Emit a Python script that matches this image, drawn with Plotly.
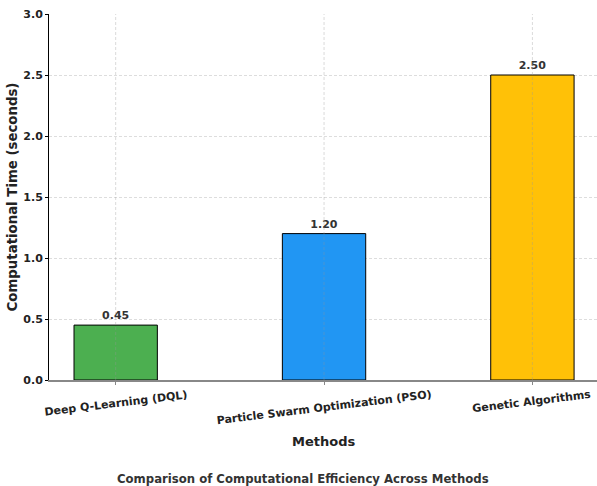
import plotly.graph_objects as go

methods = ["Deep Q-Learning (DQL)", "Particle Swarm Optimization (PSO)", "Genetic Algorithms"]
times = [0.45, 1.20, 2.50]
colors = ["#4CAF50", "#2196F3", "#FFC107"]
yticks = [0.0, 0.5, 1.0, 1.5, 2.0, 2.5, 3.0]

FONT = "DejaVu Sans"
PLOT_H = 486 - 14 - 106
PLOT_W = 597 - 49

fig = go.Figure()
fig.add_trace(go.Bar(
    x=methods, y=times, width=0.4,
    marker=dict(color=colors, line=dict(color="black", width=1)),
    texttemplate="<b>%{y:.2f}</b>", textposition="outside",
    textfont=dict(family=FONT, size=11, color="#333333"),
    cliponaxis=False,
))

annotations = []
for m in methods:
    annotations.append(dict(
        x=m, xref="x", y=-6 / PLOT_H, yref="paper", yanchor="top", xanchor="center",
        text=f"<b>{m}</b>", textangle=-7, showarrow=False,
        font=dict(family=FONT, size=11, color="#222222"),
    ))
annotations.append(dict(
    x=0.5, xref="paper", y=-61 / PLOT_H, yref="paper", yanchor="middle",
    text="<b>Methods</b>", showarrow=False,
    font=dict(family=FONT, size=13, color="#222222"),
))
annotations.append(dict(
    x=(303 - 49) / PLOT_W, xref="paper", y=-99 / PLOT_H, yref="paper", yanchor="middle",
    text="<b>Comparison of Computational Efficiency Across Methods</b>", showarrow=False,
    font=dict(family=FONT, size=11.7, color="#333333"),
))

# vertical grid lines drawn over the bars (as in the reference)
shapes = [
    dict(type="line", xref="x", yref="paper", x0=m, x1=m, y0=0, y1=1, layer="above",
         line=dict(color="rgba(150,150,150,0.45)", width=0.8, dash="3px,2px"))
    for m in methods
]

fig.update_layout(
    width=597, height=486,
    margin=dict(l=49, r=0, t=14, b=106),
    paper_bgcolor="white", plot_bgcolor="white",
    showlegend=False,
    font=dict(family=FONT, size=11, color="#222222"),
    annotations=annotations,
    shapes=shapes,
)
fig.update_xaxes(
    range=[-0.32, 2.31], showticklabels=False,
    showgrid=False,
    showline=True, linecolor="#888888", linewidth=1.5,
    ticks="outside", ticklen=3, tickcolor="#888888",
    layer="above traces",
)
fig.update_yaxes(
    range=[0, 3.0], tickvals=yticks, ticktext=[f"<b>{v:.1f}</b>" for v in yticks],
    showgrid=True, gridcolor="#dddddd", griddash="3px,2px", gridwidth=0.8,
    showline=True, linecolor="black", linewidth=1,
    ticks="outside", ticklen=3, tickcolor="black",
    tickfont=dict(family=FONT, size=11, color="#222222"),
    title=dict(text="<b>Computational Time (seconds)</b>", font=dict(family=FONT, size=13.3, color="#222222"), standoff=2),
    zeroline=False,
    layer="above traces",
)

fig.write_html("out.html")
